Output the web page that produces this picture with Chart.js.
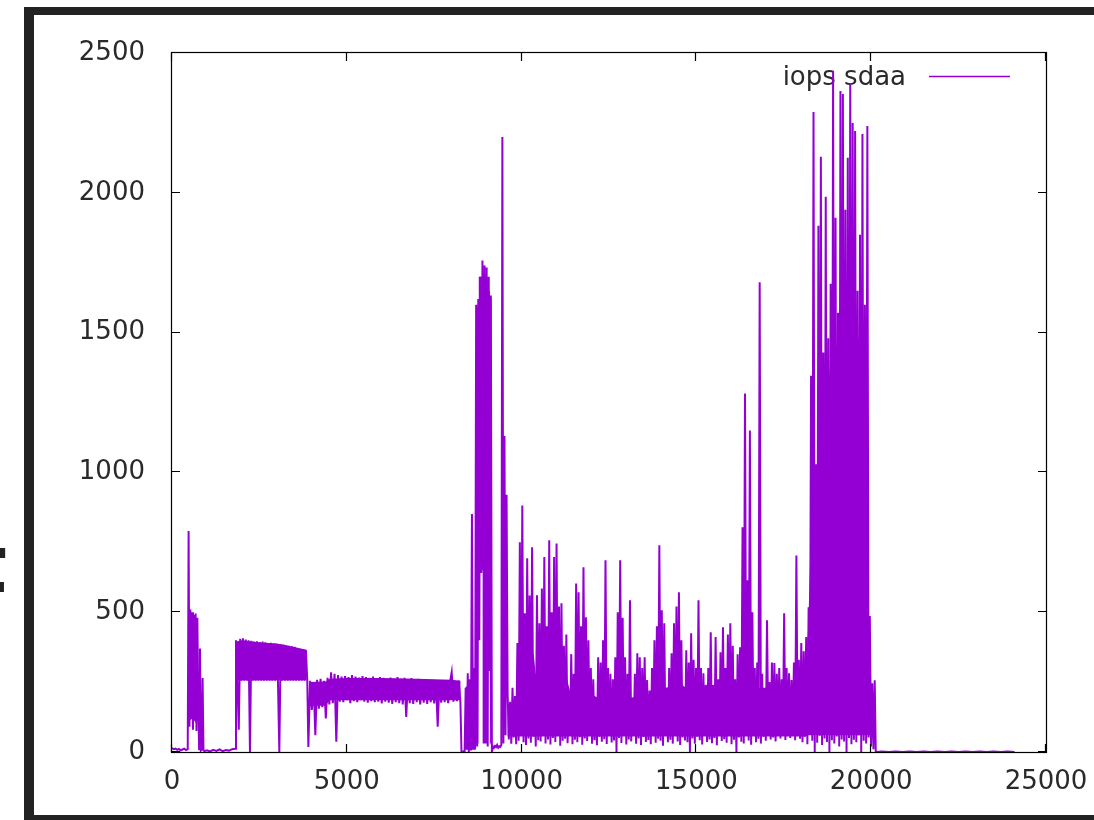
<!DOCTYPE html>
<html><head><meta charset="utf-8">
<script src="https://cdn.jsdelivr.net/npm/chart.js@4.4.1/dist/chart.umd.min.js"></script>
<style>html,body{margin:0;padding:0;background:#fff;overflow:hidden}canvas{display:block}</style>
</head><body>
<canvas id="c" width="1094" height="820"></canvas>
<script>
// ---------------- data ----------------
const seriesName = "iops sdaa";
const xTickValues = [0, 5000, 10000, 15000, 20000, 25000];
const yTickValues = [0, 500, 1000, 1500, 2000, 2500];

// quiet start: x = 0 .. 450, step 50
const quietStart = [14, 10, 12, 8, 11, 6, 9, 12, 7, 10];
// first burst: x = 475 .. 925, step 25
const firstBurst = [790, 90, 510, 150, 500, 80, 490, 300, 495, 75, 480, 190, 10, 370, 5, 8, 265, 8, 3];
// idle: x = 1000 .. 1810, step 90
const idleOne = [6, 2, 8, 4, 9, 3, 7, 5, 10, 12];
// flat block: x = 1830 .. 3870, step 40
const flatBlock = [400,255,80,405,255,407,255,402,255,400,0,398,255,395,255,396,255,393,255,395,
  255,392,255,390,255,391,255,388,255,387,255,0,385,255,384,255,382,255,380,255,
  378,255,376,255,372,255,368,255,366,255,364,255];
// steady band: x = 3900 .. 8250, step 50
const steadyBand = [18,255,150,250,60,258,155,262,160,255,
  120,265,170,285,175,280,37,275,180,270,
  178,272,185,268,175,275,182,270,178,266,
  185,272,180,268,176,265,182,270,178,262,
  180,268,174,265,180,260,176,266,172,262,
  178,268,175,262,170,265,125,260,175,264,
  172,258,178,262,170,256,176,260,172,255,
  178,258,174,252,90,255,176,250,178,255,
  175,248,285,180,252,182,255,178];
// peak burst: x = 8280 .. 9570, step 30
const peakBurst = [0,0,2,0,230,10,282,0,260,5,
  851,30,300,10,1600,20,1620,400,1700,640,
  1758,700,1740,350,1733,20,1700,360,1633,0,
  20,15,22,18,25,15,20,18,25,2200,
  30,1130,60,920];
// noisy phase: highs at x = 9600 + 70*i, lows in between (x = 9635 + 70*i)
const noisyHighs = [
  210,180,230,200,390,750,882,496,693,560,
  732,250,561,460,585,697,450,757,500,697,
  746,520,532,380,420,186,350,280,603,571,
  450,661,482,400,300,260,196,339,320,400,
  686,300,280,260,339,500,686,480,339,280,
  543,190,280,353,339,300,339,257,220,300,
  400,450,739,507,460,221,300,353,460,520,
  571,400,232,364,320,425,330,300,543,300,
  282,240,300,428,230,411,260,357,446,300,
  420,460,380,260,350,375,804,1282,614,1150,
  500,300,320,1680,280,220,471,250,320,318,
  280,300,260,496,300,282,257,320,703,330,
  390,360,411,518,1346,2289,1029,1882,2129,1429,
  1986,1480,1675,2436,1911,1571,2364,2353,1939,2125,
  2393,2250,2221,1650,1850,2210,1600,2239,486,246];
const noisyLows = [
  45,30,52,28,40,60,35,25,48,33,55,20,42,38,62,30,45,27,50,36,
  58,22,40,47,31,65,28,44,35,53,26,48,39,60,30,42,24,55,37,46,
  29,63,34,41,0,50,32,57,27,45,38,62,30,48,25,54,36,43,28,60,
  33,47,40,22,58,35,44,30,66,38,25,52,41,35,0,48,30,55,42,27,
  60,36,45,31,50,24,57,39,46,33,62,28,44,0,52,37,30,58,41,26,
  64,35,47,30,55,40,68,45,52,38,70,48,60,43,75,50,58,42,66,47,
  35,55,28,62,40,0,33,58,25,48,36,0,42,30,55,20,45,38,0,50,
  28,44,35,60,0,40,30,52,20,10];
// tail: final spike x = 20100 .. 20160 step 30, then idle x = 20300 .. 24100 step 200
const finalSpike = [257, 2, 0];
const idleTail = [2,0,2,0,2,0,2,0,2,0,2,0,2,0,2,0,2,0,2,0];

// solid core of the dense trace (where samples are so dense the trace is a filled mass);
// top = bottom = 0 where there is no solid core
const coreX = [469, 470,590,710, 711,
  1839, 1840,2000,2500,3000,3400,3850, 3851,
  3919, 3920,4400,4500,5000,6000,7000,8000,8250, 8251,
  8389, 8390,8540,8680,
  8690,8765,8775,8885,8895,9025,9035,9090,9100,9140, 9141,
  9599, 9600,9900,9950,10350,10400,11300,11400,12100,12200,14000,14100,14600,14700,16300,16350,16600,16650,18100,
  18200,18300,18450,18600,18750,18900,19050,19200,19400,19550,19700,19850,19930,19970, 19971];
const coreTop = [0, 480,490,470, 0,
  0, 395,400,392,388,378,366, 0,
  0, 250,252,262,265,265,262,258,255, 0,
  0, 230,250,250,
  1590,1590,1700,1700,1700,1700,1650,1650,1620,1620, 0,
  0, 170,170,350,350,280,260,210,200,190,200,230,240,230,250,380,380,230,230,
  450,900,1000,1200,1300,1450,1450,1300,1500,1450,1500,1100,500,250, 0];
const coreBottom = [0, 110,120,100, 0,
  0, 257,257,257,257,257,257, 0,
  0, 165,165,185,185,185,185,185,185, 0,
  0, 8,8,8,
  30,30,650,650,30,30,290,290,30,30, 0,
  0, 55,55,55,55,55,55,55,55,55,55,55,55,55,55,55,55,55,55,
  60,60,60,60,60,60,60,60,60,60,60,60,60,60, 0];

// ---------------- build the point lists ----------------
const points = [];
function addSeg(x0, dx, vals){ vals.forEach((v,i)=>points.push({x:x0+i*dx, y:v})); }
addSeg(0, 50, quietStart);
addSeg(475, 25, firstBurst);
addSeg(1000, 90, idleOne);
addSeg(1830, 40, flatBlock);
addSeg(3900, 50, steadyBand);
addSeg(8280, 30, peakBurst);
const nN = Math.min(noisyHighs.length, noisyLows.length);
for (let i=0;i<nN;i++){
  points.push({x:9600+70*i, y:noisyHighs[i]});
  points.push({x:9635+70*i, y:noisyLows[i]});
}
addSeg(20100, 30, finalSpike);
addSeg(20300, 200, idleTail);
const coreTopPts = coreX.map((x,i)=>({x, y:coreTop[i]}));
const coreBotPts = coreX.map((x,i)=>({x, y:coreBottom[i]}));

// ---------------- drawing ----------------
const PURPLE = '#9400d3';
const FONT = '"DejaVu Sans", sans-serif';
const deco = {
  id: 'deco',
  beforeDraw(chart){
    const c = chart.ctx; c.save(); c.fillStyle='#fff'; c.fillRect(0,0,chart.width,chart.height); c.restore();
  },
  beforeDatasetsDraw(chart){
    const c = chart.ctx, a = chart.chartArea;
    c.save();
    c.font = '26px ' + FONT; c.fillStyle = '#2a2a2a';
    c.textAlign = 'right'; c.textBaseline = 'alphabetic';
    c.fillText(seriesName, a.right - 140, a.top + 32);
    c.strokeStyle = PURPLE; c.lineWidth = 1.6;
    c.beginPath(); c.moveTo(a.right - 117, a.top + 23.5); c.lineTo(a.right - 36, a.top + 23.5); c.stroke();
    c.restore();
  },
  afterDatasetsDraw(chart){
    const c = chart.ctx, a = chart.chartArea, xs = chart.scales.x, ys = chart.scales.y;
    c.save();
    c.strokeStyle = '#000'; c.lineWidth = 1.2;
    c.strokeRect(a.left - 0.5, a.top - 0.5, a.right - a.left + 1, a.bottom - a.top + 1);
    const tl = 8;
    c.beginPath();
    xs.ticks.forEach(t=>{ const p = Math.round(xs.getPixelForValue(t.value)) - 0.5;
      c.moveTo(p, a.bottom); c.lineTo(p, a.bottom - tl); c.moveTo(p, a.top); c.lineTo(p, a.top + tl); });
    ys.ticks.forEach(t=>{ const p = Math.round(ys.getPixelForValue(t.value)) - 0.5;
      c.moveTo(a.left, p); c.lineTo(a.left + tl, p); c.moveTo(a.right, p); c.lineTo(a.right - tl, p); });
    c.stroke();
    c.restore();
  },
  afterDraw(chart){
    const c = chart.ctx, W = chart.width, H = chart.height;
    c.save();
    c.fillStyle = '#222';
    c.fillRect(24, 7, W - 24, 8);     // top bar
    c.fillRect(24, 7, 10, H - 7);     // left bar
    c.fillRect(24, H - 5, W - 24, 5); // bottom bar
    c.font = 'bold 80px ' + FONT; c.textAlign = 'right'; c.textBaseline = 'alphabetic';
    c.fillText('t', 7, 592);
    c.restore();
  }
};

new Chart(document.getElementById('c'), {
  type: 'line',
  data: { datasets: [
    { label: seriesName, data: points, parsing: false, normalized: true,
      borderColor: PURPLE, backgroundColor: PURPLE, borderWidth: 2,
      pointRadius: 0, tension: 0, fill: false, spanGaps: true },
    { label: 'core top', data: coreTopPts, parsing: false,
      borderColor: 'rgba(0,0,0,0)', borderWidth: 0, backgroundColor: PURPLE,
      pointRadius: 0, tension: 0, fill: '+1' },
    { label: 'core bottom', data: coreBotPts, parsing: false,
      borderColor: 'rgba(0,0,0,0)', borderWidth: 0, backgroundColor: PURPLE,
      pointRadius: 0, tension: 0, fill: false }
  ]},
  options: {
    responsive: false, animation: false, devicePixelRatio: 1,
    layout: { padding: { top: 53, right: 48, left: 0, bottom: 0 } },
    plugins: { legend: { display: false }, tooltip: { enabled: false } },
    scales: {
      x: { type: 'linear', min: 0, max: 25000,
        afterBuildTicks(s){ s.ticks = xTickValues.map(v=>({value:v})); },
        afterFit(s){ s.height = 68; s.paddingLeft = 0; s.paddingRight = 0; },
        grid: { display: false, drawTicks: false }, border: { display: false },
        ticks: { padding: 15, color: '#2a2a2a', font: { family: FONT, size: 26 }, maxRotation: 0, autoSkip: false,
          callback: v => String(v) } },
      y: { type: 'linear', min: 0, max: 2500,
        afterBuildTicks(s){ s.ticks = yTickValues.map(v=>({value:v})); },
        afterFit(s){ s.width = 172; s.paddingTop = 0; s.paddingBottom = 0; },
        grid: { display: false, drawTicks: false }, border: { display: false },
        ticks: { padding: 27, color: '#2a2a2a', font: { family: FONT, size: 26 }, autoSkip: false,
          callback: v => String(v) } }
    }
  },
  plugins: [deco]
});
</script></body></html>
